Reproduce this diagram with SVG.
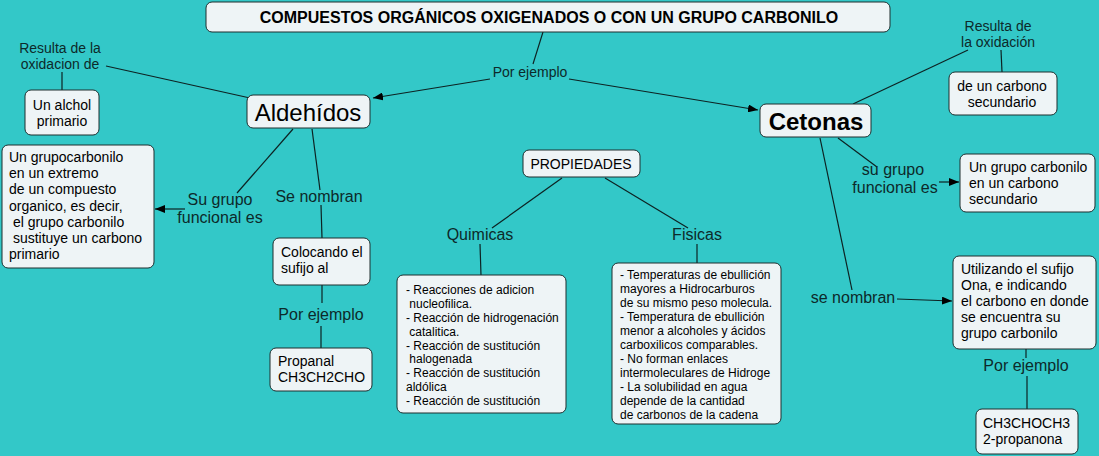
<svg xmlns="http://www.w3.org/2000/svg" width="1099" height="456" viewBox="0 0 1099 456">
<defs>
<marker id="ah" markerWidth="10" markerHeight="8" refX="10" refY="4" orient="auto" markerUnits="userSpaceOnUse">
<path d="M0,0 L10,4 L0,8 Z" fill="#000"/>
</marker>
<style>
text{font-family:"Liberation Sans",Arial,sans-serif;fill:#000;white-space:pre}
.box{fill:#EEF4F6;stroke:#1e2e2e;stroke-width:1}
.lk{fill:#0d2a2a;text-anchor:middle}
.c{text-anchor:middle}
.s13{font-size:14px}
.s14{font-size:14px}
.s15{font-size:16px}
.s11{font-size:12px}
.ln{stroke:#0d2222;stroke-width:1.2;fill:none}
</style>
</defs>
<rect width="1099" height="456" fill="#33C8C8"/>
<g id="connectors">
<path class="ln" d="M543,32 L533,64"/>
<path class="ln" d="M490,79 L373,98" marker-end="url(#ah)"/>
<path class="ln" d="M569,79 L758,110" marker-end="url(#ah)"/>
<path class="ln" d="M106,66 L250,98"/>
<path class="ln" d="M62,72 L62,90"/>
<path class="ln" d="M293,129 L237,193"/>
<path class="ln" d="M185,209 L155,209" marker-end="url(#ah)"/>
<path class="ln" d="M312,129 L320,190"/>
<path class="ln" d="M321,205 L322,238"/>
<path class="ln" d="M322,285 L322,303"/>
<path class="ln" d="M321,326 L321,348"/>
<path class="ln" d="M562,178 L492,228"/>
<path class="ln" d="M605,178 L688,228"/>
<path class="ln" d="M480,244 L481,275"/>
<path class="ln" d="M697,244 L697,263"/>
<path class="ln" d="M853,104 L968,50"/>
<path class="ln" d="M1001,50 L1002,72"/>
<path class="ln" d="M838,138 L877,167"/>
<path class="ln" d="M939,182 L959,182" marker-end="url(#ah)"/>
<path class="ln" d="M820,138 L852,290"/>
<path class="ln" d="M897,299 L952,301" marker-end="url(#ah)"/>
<path class="ln" d="M1026,349 L1026,358"/>
<path class="ln" d="M1027,376 L1027,409"/>
<text class="lk s14" x="530" y="77">Por ejemplo</text>
<text class="lk s14" x="60" y="53">Resulta de la</text>
<text class="lk s14" x="60" y="69">oxidacion de</text>
<text class="lk s15" x="220" y="205">Su grupo</text>
<text class="lk s15" x="220" y="223">funcional es</text>
<text class="lk s15" x="319" y="202">Se nombran</text>
<text class="lk s15" x="321" y="320">Por ejemplo</text>
<text class="lk s15" x="480" y="240">Quimicas</text>
<text class="lk s15" x="697" y="240">Fisicas</text>
<text class="lk s14" x="998" y="31">Resulta de</text>
<text class="lk s14" x="998" y="47">la oxidación</text>
<text class="lk s15" x="893" y="175">su grupo</text>
<text class="lk s15" x="895" y="193">funcional es</text>
<text class="lk s15" x="853" y="303">se nombran</text>
<text class="lk s15" x="1026" y="371">Por ejemplo</text>
</g>
<g id="title">
<rect class="box" x="206" y="2" width="684" height="30" rx="6"/>
<text class="c" x="549" y="23" style="font-size:16px;font-weight:bold">COMPUESTOS ORGÁNICOS OXIGENADOS O CON UN GRUPO CARBONILO</text>
</g>
<g id="aldehidos">
<rect class="box" x="247" y="95" width="123" height="33" rx="6"/>
<text class="c" x="308" y="121" style="font-size:24px">Aldehídos</text>
</g>
<g id="cetonas">
<rect class="box" x="760" y="104" width="111" height="33" rx="6"/>
<text class="c" x="816" y="130" style="font-size:24px;font-weight:bold">Cetonas</text>
</g>
<g id="alchol">
<rect class="box" x="25" y="90" width="74" height="45" rx="6"/>
<text class="c s13" x="62" y="110">Un alchol</text>
<text class="c s13" x="62" y="126">primario</text>
</g>
<g id="grupo-ald">
<rect class="box" x="2" y="145" width="152" height="123" rx="6"/>
<text class="s13" x="9" y="162">Un grupocarbonilo</text>
<text class="s13" x="9" y="178">en un extremo</text>
<text class="s13" x="9" y="194">de un compuesto</text>
<text class="s13" x="9" y="211">organico, es decir,</text>
<text class="s13" x="9" y="227"> el grupo carbonilo</text>
<text class="s13" x="9" y="243"> sustituye un carbono</text>
<text class="s13" x="9" y="259">primario</text>
</g>
<g id="colocando">
<rect class="box" x="273" y="238" width="97" height="47" rx="6"/>
<text class="s13" x="281" y="257">Colocando el</text>
<text class="s13" x="281" y="273">sufijo al</text>
</g>
<g id="propanal">
<rect class="box" x="270" y="348" width="102" height="43" rx="6"/>
<text class="s13" x="278" y="366">Propanal</text>
<text class="s13" x="278" y="382">CH3CH2CHO</text>
</g>
<g id="propiedades">
<rect class="box" x="523" y="150" width="117" height="27" rx="6"/>
<text class="c s14" x="581" y="169">PROPIEDADES</text>
</g>
<g id="quimicas">
<rect class="box" x="397" y="275" width="169" height="138" rx="6"/>
<text class="s11" x="406" y="294">- Reacciones de adicion</text>
<text class="s11" x="406" y="308"> nucleofilica.</text>
<text class="s11" x="406" y="322">- Reacción de hidrogenación</text>
<text class="s11" x="406" y="336"> catalitica.</text>
<text class="s11" x="406" y="350">- Reacción de sustitución</text>
<text class="s11" x="406" y="363"> halogenada</text>
<text class="s11" x="406" y="377">- Reacción de sustitución</text>
<text class="s11" x="406" y="391">aldólica</text>
<text class="s11" x="406" y="405">- Reacción de sustitución</text>
</g>
<g id="fisicas">
<rect class="box" x="612" y="263" width="169" height="161" rx="6"/>
<text class="s11" x="620" y="279">- Temperaturas de ebullición</text>
<text class="s11" x="620" y="293">mayores a Hidrocarburos</text>
<text class="s11" x="620" y="307">de su mismo peso molecula.</text>
<text class="s11" x="620" y="321">- Temperatura de ebullición</text>
<text class="s11" x="620" y="335">menor a alcoholes y ácidos</text>
<text class="s11" x="620" y="349">carboxilicos comparables.</text>
<text class="s11" x="620" y="363">- No forman enlaces</text>
<text class="s11" x="620" y="377">intermoleculares de Hidroge</text>
<text class="s11" x="620" y="391">- La solubilidad en agua</text>
<text class="s11" x="620" y="405">depende de la cantidad</text>
<text class="s11" x="620" y="419">de carbonos de la cadena</text>
</g>
<g id="carbono-sec">
<rect class="box" x="949" y="72" width="108" height="43" rx="6"/>
<text class="c s13" x="1002" y="91">de un carbono</text>
<text class="c s13" x="1002" y="107">secundario</text>
</g>
<g id="grupo-cet">
<rect class="box" x="960" y="154" width="135" height="58" rx="6"/>
<text class="s13" x="969" y="172">Un grupo carbonilo</text>
<text class="s13" x="969" y="188">en un carbono</text>
<text class="s13" x="969" y="204">secundario</text>
</g>
<g id="utilizando">
<rect class="box" x="953" y="256" width="143" height="93" rx="6"/>
<text class="s13" x="961" y="274">Utilizando el sufijo</text>
<text class="s13" x="961" y="290">Ona, e indicando</text>
<text class="s13" x="961" y="306">el carbono en donde</text>
<text class="s13" x="961" y="322">se encuentra su</text>
<text class="s13" x="961" y="338">grupo carbonilo</text>
</g>
<g id="propanona">
<rect class="box" x="976" y="409" width="102" height="45" rx="6"/>
<text class="s13" x="983" y="428">CH3CHOCH3</text>
<text class="s13" x="983" y="444">2-propanona</text>
</g>
</svg>
